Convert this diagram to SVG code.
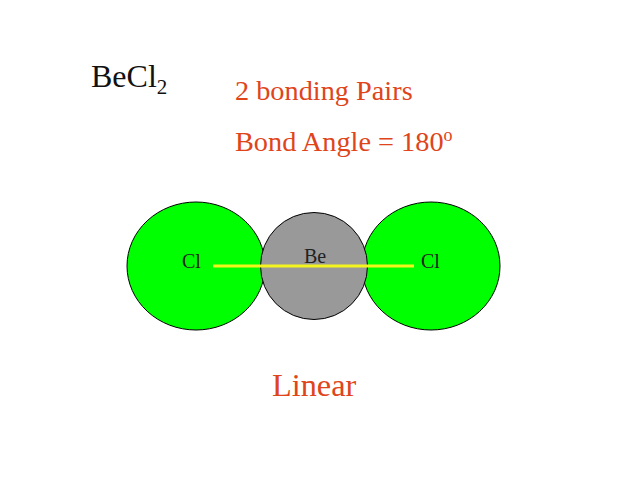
<svg xmlns="http://www.w3.org/2000/svg" width="638" height="479" viewBox="0 0 638 479">
<style>
text{font-family:"Liberation Serif","Times New Roman",serif}
.atom{stroke:#000;stroke-width:1}
.orange{fill:#e0441a}
.small{font-size:20px;fill:#222}
</style>
<rect width="638" height="479" fill="#fff"/>
<g id="cl-left"><ellipse class="atom" cx="196" cy="266" rx="69" ry="64" fill="#00ff00"/><text class="small" x="182" y="268">Cl</text></g>
<g id="cl-right"><ellipse class="atom" cx="431" cy="266" rx="69" ry="64" fill="#00ff00"/><text class="small" x="421" y="268">Cl</text></g>
<g id="be"><circle class="atom" cx="314" cy="266" r="53.500" fill="#999"/><text class="small" x="304" y="263">Be</text></g>
<g id="connectors"><line x1="213" y1="266" x2="414" y2="266" stroke="#f5f51e" stroke-width="3"/></g>
<g id="labels">
<text x="91" y="87" font-size="32" fill="#111">BeCl<tspan font-size="21" dy="7">2</tspan></text>
<text class="orange" x="235" y="100" font-size="28.300">2 bonding Pairs</text>
<text class="orange" x="235" y="151" font-size="28.300">Bond Angle = 180<tspan font-size="18" dy="-10">o</tspan></text>
<text class="orange" x="272" y="396" font-size="32.300">Linear</text>
</g>
</svg>
